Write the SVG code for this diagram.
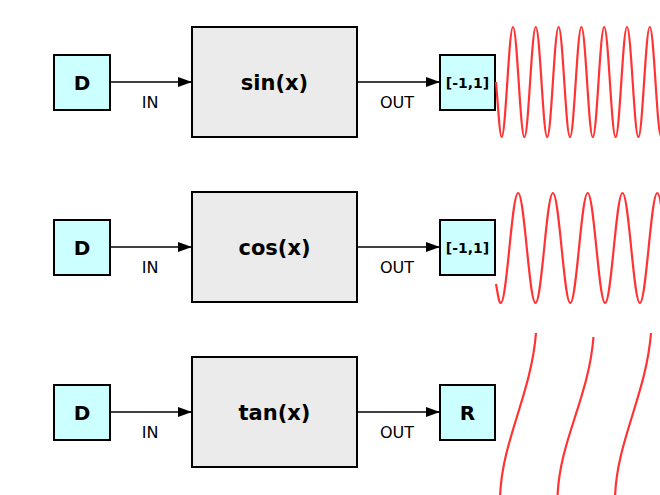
<svg xmlns="http://www.w3.org/2000/svg" width="660" height="495" viewBox="0 0 660 495">
<defs><marker id="ah" markerWidth="14" markerHeight="10" refX="14" refY="5" orient="auto" markerUnits="userSpaceOnUse"><path d="M0,0 L14,5 L0,10 z" fill="#000"/></marker></defs>
<style>
.io{fill:#ccffff;stroke:#000;stroke-width:2}
.fn{fill:#ebebeb;stroke:#000;stroke-width:2}
.b{font-family:"DejaVu Sans",sans-serif;font-weight:bold;text-anchor:middle}
.l{font-family:"DejaVu Sans",sans-serif;font-size:16px;text-anchor:middle}
.c{stroke:#000;stroke-width:1.5;fill:none;marker-end:url(#ah)}
.w{stroke:#ff3333;stroke-width:2.2;fill:none}
</style>
<rect width="660" height="495" fill="#fff"/>
<g id="n1"><rect class="io" x="54" y="55" width="56" height="55"/><text class="b" x="82" y="90" font-size="20">D</text></g>
<g id="n2"><rect class="fn" x="192" y="27" width="165" height="110"/><text class="b" x="274.5" y="90" font-size="21">sin(x)</text></g>
<g id="n3"><rect class="io" x="440" y="55" width="55" height="55"/><text class="b" x="467.5" y="88" font-size="14">[-1,1]</text></g>
<g id="n4"><rect class="io" x="54" y="220" width="56" height="55"/><text class="b" x="82" y="255" font-size="20">D</text></g>
<g id="n5"><rect class="fn" x="192" y="192" width="165" height="110"/><text class="b" x="274.5" y="255" font-size="21">cos(x)</text></g>
<g id="n6"><rect class="io" x="440" y="220" width="55" height="55"/><text class="b" x="467.5" y="253" font-size="14">[-1,1]</text></g>
<g id="n7"><rect class="io" x="54" y="385" width="56" height="55"/><text class="b" x="82" y="420" font-size="20">D</text></g>
<g id="n8"><rect class="fn" x="192" y="357" width="165" height="110"/><text class="b" x="274.5" y="420" font-size="21">tan(x)</text></g>
<g id="n9"><rect class="io" x="440" y="385" width="55" height="55"/><text class="b" x="467.5" y="420" font-size="20">R</text></g>
<g id="connectors">
<path class="c" d="M110,82 H192"/><path class="c" d="M357,82 H440"/>
<path class="c" d="M110,247 H192"/><path class="c" d="M357,247 H440"/>
<path class="c" d="M110,412 H192"/><path class="c" d="M357,412 H440"/>
<text class="l" x="150" y="108">IN</text><text class="l" x="397" y="108">OUT</text>
<text class="l" x="150" y="273">IN</text><text class="l" x="397" y="273">OUT</text>
<text class="l" x="150" y="438">IN</text><text class="l" x="397" y="438">OUT</text>
</g>
<g id="plots">
<path class="w" d="M496,82 C498,105 499.8,137 501.6,137 C505.75,137 508.85,27 513,27 S520.25,137 524.4,137 S531.65,27 535.8,27 S543.05,137 547.2,137 S554.45,27 558.6,27 S565.85,137 570,137 S577.25,27 581.4,27 S588.65,137 592.8,137 S600.05,27 604.2,27 S611.45,137 615.6,137 S622.85,27 627,27 S634.25,137 638.4,137 S645.65,27 649.8,27 S657.05,137 661.2,137"/>
<path class="w" d="M496,284 C498,295 499,303 500.7,303 C507.04,303 511.76,193 518.1,193 S529.16,303 535.5,303 S546.56,193 552.9,193 S563.96,303 570.3,303 S581.36,193 587.7,193 S598.76,303 605.1,303 S616.16,193 622.5,193 S633.56,303 639.9,303 S650.96,193 657.3,193 S668.36,303 674.7,303"/>
<path class="w" d="M500,497 C502,440 531,395 536,333"/>
<path class="w" d="M557.5,497 C559.5,440 588.5,399 593.5,337"/>
<path class="w" d="M615,497 C617,440 646,395 651,333"/>
</g>
</svg>
